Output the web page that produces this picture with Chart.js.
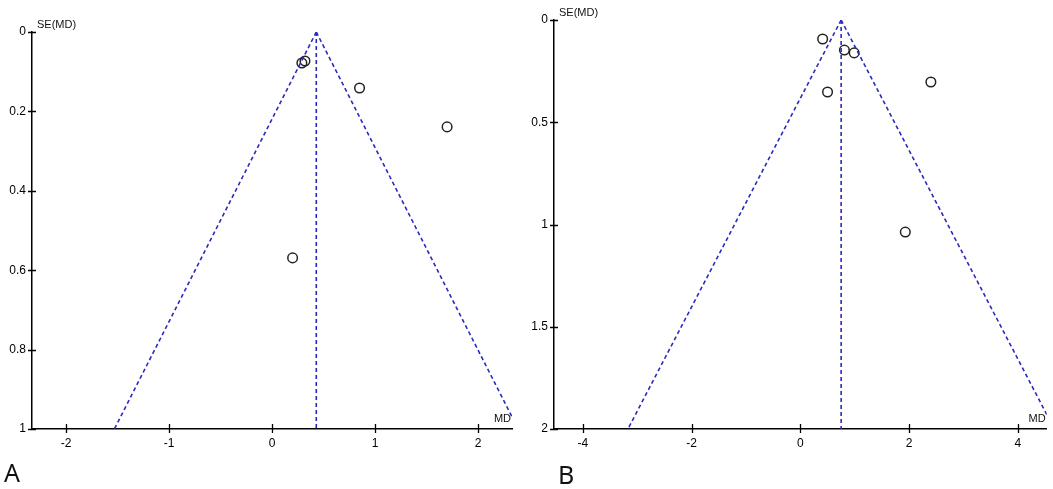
<!DOCTYPE html>
<html>
<head>
<meta charset="utf-8">
<script src="https://cdn.jsdelivr.net/npm/chart.js@4/dist/chart.umd.min.js"></script>
<style>
  html, body { margin: 0; padding: 0; background: #fff; }
  body { width: 1053px; height: 489px; position: relative; overflow: hidden; }
  canvas { position: absolute; top: 0; }
  .panel { position: absolute; font-family: "Noto Sans", "Open Sans", sans-serif; font-size: 25px; line-height: 25px; color: #111; }
</style>
</head>
<body>
<canvas id="chartA" width="530" height="489" style="left:0"></canvas>
<canvas id="chartB" width="523" height="489" style="left:530px"></canvas>
<div class="panel" style="left:4px; top:460px">A</div>
<div class="panel" style="left:558px; top:462px">B</div>
<script>
// panel A
const studyMdA = [0.29, 0.32, 0.85, 1.70, 0.20]
const studySeA = [0.078, 0.073, 0.141, 0.239, 0.569]
const funnelSeA = [0, 1]
const funnelLeftA = [0.43, -1.53]
const funnelMidA = [0.43, 0.43]
const funnelRightA = [0.43, 2.39]

// panel B
const studyMdB = [0.41, 0.81, 0.99, 2.40, 0.50, 1.93]
const studySeB = [0.093, 0.147, 0.161, 0.303, 0.352, 1.037]
const funnelSeB = [0, 2]
const funnelLeftB = [0.75, -3.17]
const funnelMidB = [0.75, 0.75]
const funnelRightB = [0.75, 4.67]

const tickFont = { family: 'Liberation Sans Narrow, Arial Narrow, Liberation Sans, sans-serif', size: 12 }

const pairs = (xs, ys) => xs.map((x, i) => ({ x: x, y: ys[i] }))
const plain = v => String(+Number(v).toFixed(2))

const funnelLine = (xs, ys) => ({
    type: 'line',
    data: pairs(xs, ys),
    borderColor: '#2a2ac0',
    borderWidth: 1.6,
    borderDash: [4, 3],
    pointRadius: 0,
    fill: false,
})

// axis captions and tick marks that cross the axis line
const axisDecor = {
    id: 'axisDecor',
    afterDraw(chart) {
        const ctx = chart.ctx
        const area = chart.chartArea
        const xs = chart.scales.x
        const ys = chart.scales.y
        ctx.save()
        ctx.strokeStyle = '#000'
        ctx.lineWidth = 1.3
        ctx.beginPath()
        xs.ticks.forEach(t => {
            const px = Math.round(xs.getPixelForValue(t.value)) + 0.5
            ctx.moveTo(px, area.bottom - 5)
            ctx.lineTo(px, area.bottom + 4)
        })
        ys.ticks.forEach(t => {
            const py = Math.round(ys.getPixelForValue(t.value)) + 0.5
            ctx.moveTo(area.left - 4, py)
            ctx.lineTo(area.left + 4, py)
        })
        ctx.stroke()
        ctx.fillStyle = '#111'
        ctx.font = '11px ' + tickFont.family
        ctx.textAlign = 'left'
        ctx.fillText('SE(MD)', area.left + 5, area.top - 4)
        ctx.textAlign = 'right'
        ctx.fillText('MD', area.right - 1, area.bottom - 7)
        ctx.restore()
    }
}

function funnel(id, md, se, left, mid, right, fse, xr, yMax, yStep, pad, yWidth) {
    return new Chart(document.getElementById(id), {
        type: 'scatter',
        data: {
            datasets: [
                funnelLine(left, fse),
                funnelLine(mid, fse),
                funnelLine(right, fse),
                {
                    data: pairs(md, se),
                    pointStyle: 'circle',
                    pointRadius: 4.8,
                    pointBorderWidth: 1.5,
                    pointBorderColor: '#222',
                    pointBackgroundColor: 'rgba(0,0,0,0)',
                },
            ]
        },
        options: {
            responsive: false,
            animation: false,
            devicePixelRatio: 1,
            layout: { padding: pad },
            plugins: { legend: { display: false }, tooltip: { enabled: false } },
            scales: {
                x: {
                    type: 'linear',
                    min: -xr,
                    max: xr,
                    grid: { display: false, drawTicks: false },
                    border: { color: '#000', width: 1.5 },
                    ticks: { stepSize: xr > 3 ? 2 : 1, includeBounds: false, padding: 7, color: '#000', font: tickFont, maxRotation: 0, callback: plain },
                    afterFit: s => { s.height = 30 },
                },
                y: {
                    type: 'linear',
                    reverse: true,
                    min: 0,
                    max: yMax,
                    grid: { display: false, drawTicks: false },
                    border: { color: '#000', width: 1.5 },
                    ticks: { stepSize: yStep, padding: 6, color: '#000', font: tickFont, callback: plain },
                    afterFit: s => { s.width = yWidth },
                },
            }
        },
        plugins: [axisDecor]
    })
}

funnel('chartA', studyMdA, studySeA, funnelLeftA, funnelMidA, funnelRightA, funnelSeA,
    2.33, 1, 0.2, { top: 32, right: 18, bottom: 30, left: 0 }, 32)
funnel('chartB', studyMdB, studySeB, funnelLeftB, funnelMidB, funnelRightB, funnelSeB,
    4.53, 2, 0.5, { top: 20, right: 3, bottom: 30, left: 0 }, 24)
</script>
</body>
</html>
